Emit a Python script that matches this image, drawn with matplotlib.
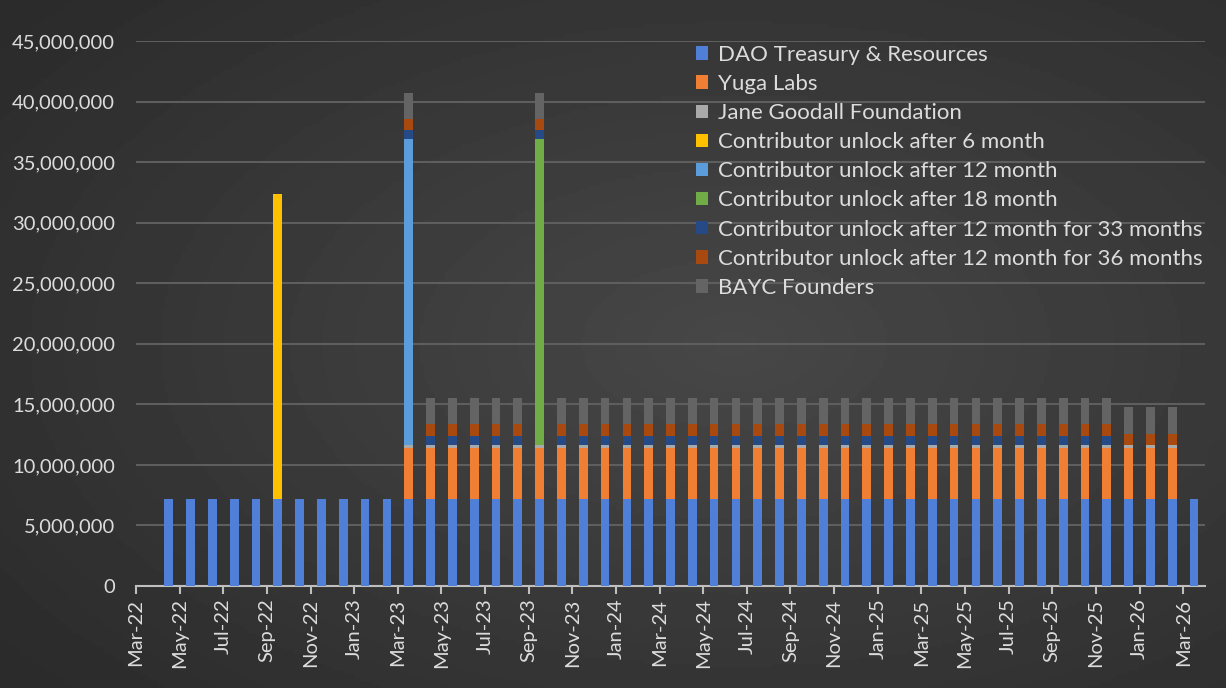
import numpy as np
import matplotlib
matplotlib.use("Agg")
import matplotlib.pyplot as plt
from matplotlib.patches import Patch

# Monthly unlocks (millions of tokens), Apr-22 .. Mar-26 (48 months)
dao = [7.2, 7.2, 7.2, 7.2, 7.2, 7.2, 7.2, 7.2, 7.2, 7.2, 7.2, 7.2,
       7.2, 7.2, 7.2, 7.2, 7.2, 7.2, 7.2, 7.2, 7.2, 7.2, 7.2, 7.2,
       7.2, 7.2, 7.2, 7.2, 7.2, 7.2, 7.2, 7.2, 7.2, 7.2, 7.2, 7.2,
       7.2, 7.2, 7.2, 7.2, 7.2, 7.2, 7.2, 7.2, 7.2, 7.2, 7.2, 7.2]
yuga = [0, 0, 0, 0, 0, 0, 0, 0, 0, 0, 0, 4.2,
        4.2, 4.2, 4.2, 4.2, 4.2, 4.2, 4.2, 4.2, 4.2, 4.2, 4.2, 4.2,
        4.2, 4.2, 4.2, 4.2, 4.2, 4.2, 4.2, 4.2, 4.2, 4.2, 4.2, 4.2,
        4.2, 4.2, 4.2, 4.2, 4.2, 4.2, 4.2, 4.2, 4.2, 4.2, 4.2, 0]
goodall = [0, 0, 0, 0, 0, 0, 0, 0, 0, 0, 0, 0.27,
           0.27, 0.27, 0.27, 0.27, 0.27, 0.27, 0.27, 0.27, 0.27, 0.27, 0.27, 0.27,
           0.27, 0.27, 0.27, 0.27, 0.27, 0.27, 0.27, 0.27, 0.27, 0.27, 0.27, 0.27,
           0.27, 0.27, 0.27, 0.27, 0.27, 0.27, 0.27, 0.27, 0.27, 0.27, 0.27, 0]
contrib_6 = [0, 0, 0, 0, 0, 25.2, 0, 0, 0, 0, 0, 0,
             0, 0, 0, 0, 0, 0, 0, 0, 0, 0, 0, 0,
             0, 0, 0, 0, 0, 0, 0, 0, 0, 0, 0, 0,
             0, 0, 0, 0, 0, 0, 0, 0, 0, 0, 0, 0]
contrib_12 = [0, 0, 0, 0, 0, 0, 0, 0, 0, 0, 0, 25.2,
              0, 0, 0, 0, 0, 0, 0, 0, 0, 0, 0, 0,
              0, 0, 0, 0, 0, 0, 0, 0, 0, 0, 0, 0,
              0, 0, 0, 0, 0, 0, 0, 0, 0, 0, 0, 0]
contrib_18 = [0, 0, 0, 0, 0, 0, 0, 0, 0, 0, 0, 0,
              0, 0, 0, 0, 0, 25.2, 0, 0, 0, 0, 0, 0,
              0, 0, 0, 0, 0, 0, 0, 0, 0, 0, 0, 0,
              0, 0, 0, 0, 0, 0, 0, 0, 0, 0, 0, 0]
contrib_33 = [0, 0, 0, 0, 0, 0, 0, 0, 0, 0, 0, 0.75,
              0.75, 0.75, 0.75, 0.75, 0.75, 0.75, 0.75, 0.75, 0.75, 0.75, 0.75, 0.75,
              0.75, 0.75, 0.75, 0.75, 0.75, 0.75, 0.75, 0.75, 0.75, 0.75, 0.75, 0.75,
              0.75, 0.75, 0.75, 0.75, 0.75, 0.75, 0.75, 0.75, 0, 0, 0, 0]
contrib_36 = [0, 0, 0, 0, 0, 0, 0, 0, 0, 0, 0, 0.92,
              0.92, 0.92, 0.92, 0.92, 0.92, 0.92, 0.92, 0.92, 0.92, 0.92, 0.92, 0.92,
              0.92, 0.92, 0.92, 0.92, 0.92, 0.92, 0.92, 0.92, 0.92, 0.92, 0.92, 0.92,
              0.92, 0.92, 0.92, 0.92, 0.92, 0.92, 0.92, 0.92, 0.92, 0.92, 0.92, 0]
bayc = [0, 0, 0, 0, 0, 0, 0, 0, 0, 0, 0, 2.2,
        2.2, 2.2, 2.2, 2.2, 2.2, 2.2, 2.2, 2.2, 2.2, 2.2, 2.2, 2.2,
        2.2, 2.2, 2.2, 2.2, 2.2, 2.2, 2.2, 2.2, 2.2, 2.2, 2.2, 2.2,
        2.2, 2.2, 2.2, 2.2, 2.2, 2.2, 2.2, 2.2, 2.2, 2.2, 2.2, 0]

tick_labels = ["Mar-22", "May-22", "Jul-22", "Sep-22", "Nov-22", "Jan-23",
               "Mar-23", "May-23", "Jul-23", "Sep-23", "Nov-23", "Jan-24",
               "Mar-24", "May-24", "Jul-24", "Sep-24", "Nov-24", "Jan-25",
               "Mar-25", "May-25", "Jul-25", "Sep-25", "Nov-25", "Jan-26",
               "Mar-26"]

series = [
    ("DAO Treasury & Resources", dao, "#4f7fd6"),
    ("Yuga Labs", yuga, "#f07f33"),
    ("Jane Goodall Foundation", goodall, "#a9a9a9"),
    ("Contributor unlock after 6 month", contrib_6, "#ffc000"),
    ("Contributor unlock after 12 month", contrib_12, "#5b9ddb"),
    ("Contributor unlock after 18 month", contrib_18, "#70ad47"),
    ("Contributor unlock after 12 month for 33 months", contrib_33, "#264a85"),
    ("Contributor unlock after 12 month for 36 months", contrib_36, "#a84a10"),
    ("BAYC Founders", bayc, "#646464"),
]

plt.rcParams["font.family"] = ["Lato", "DejaVu Sans"]
txt = "#dcdcdc"

fig = plt.figure(figsize=(12.26, 6.88), dpi=100)

# dark radial background
bg = fig.add_axes([0, 0, 1, 1], zorder=-10)
yy, xx = np.mgrid[0:1:200j, 0:1:350j]
r = np.sqrt(((xx - 0.6) / 0.75) ** 2 + ((yy - 0.5) / 0.75) ** 2)
bg.imshow(0.28 - 0.11 * np.clip(r, 0, 1), cmap="gray", vmin=0, vmax=1,
          aspect="auto", extent=[0, 1, 0, 1])
bg.axis("off")

ax = fig.add_axes([136 / 1226, 1 - 586 / 688, (1205 - 136) / 1226, (586 - 41) / 688])
ax.patch.set_alpha(0)

x = np.arange(1, 49) + 0.5
bottom = np.zeros(48)
for name, vals, col in series:
    v = np.array(vals) * 1e6
    ax.bar(x, v, width=0.4, bottom=bottom, color=col, label=name, zorder=3)
    bottom += v

ax.set_xlim(0, 49)
ax.set_ylim(0, 45e6)
ax.set_yticks(np.arange(0, 45e6 + 1, 5e6))
ax.set_yticklabels([f"{int(t):,}" for t in np.arange(0, 45e6 + 1, 5e6)])
ax.set_xticks(np.arange(0, 49, 2))
ax.set_xticklabels(tick_labels, rotation=90)
ax.grid(axis="y", color="#5e5e5e", linewidth=1.5, zorder=0)

for s in ["top", "right", "left"]:
    ax.spines[s].set_visible(False)
ax.spines["bottom"].set_color("#bfbfbf")
ax.spines["bottom"].set_linewidth(1.5)
ax.tick_params(axis="y", length=0, colors=txt, labelsize=14.5, pad=15)
ax.tick_params(axis="x", length=6, width=1.5, color="#bfbfbf", colors=txt,
               labelsize=14.5, pad=3)

handles = [Patch(facecolor=c) for _, _, c in series]
leg = fig.legend(handles, [s[0] for s in series], loc="upper left",
                 bbox_to_anchor=(687 / 1226, 1 - 36 / 688), frameon=False,
                 fontsize=16, labelcolor=txt, handlelength=0.55, handleheight=0.55,
                 handletextpad=0.45, labelspacing=0.41, borderaxespad=0)

fig.savefig("out.png", dpi=100)
